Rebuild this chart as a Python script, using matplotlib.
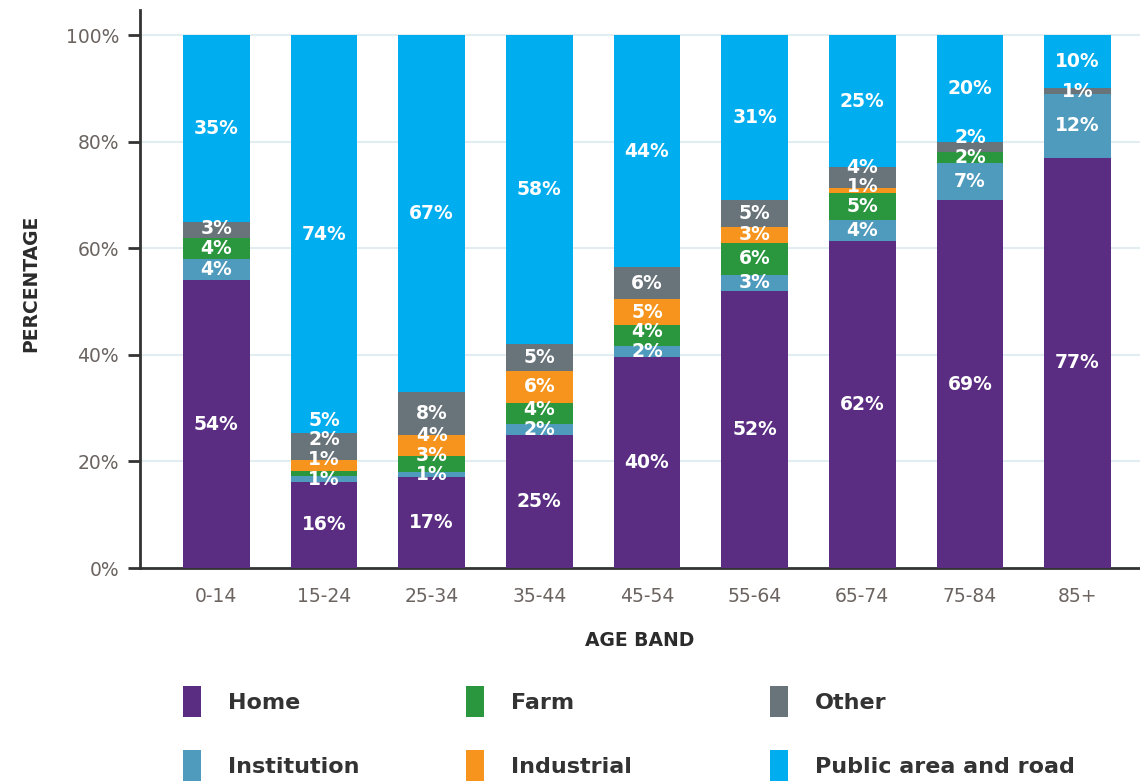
import numpy as np
import matplotlib.pyplot as plt
from matplotlib.patches import Patch

# Age bands and share of deaths by place of occurrence (%)
age_bands = ["0-14", "15-24", "25-34", "35-44", "45-54", "55-64", "65-74", "75-84", "85+"]
home = [54, 16, 17, 25, 40, 52, 62, 69, 77]
institution = [4, 1, 1, 2, 2, 3, 4, 7, 12]
farm = [4, 1, 3, 4, 4, 6, 5, 2, 0]
industrial = [0, 2, 4, 6, 5, 3, 1, 0, 0]
other = [3, 5, 8, 5, 6, 5, 4, 2, 1]
public = [35, 74, 67, 58, 44, 31, 25, 20, 10]

series = [
    ("Home", home, "#5a2d82"),
    ("Institution", institution, "#4f9bbd"),
    ("Farm", farm, "#2a973f"),
    ("Industrial", industrial, "#f7941d"),
    ("Other", other, "#68737a"),
    ("Public area and road", public, "#00aeef"),
]

fig = plt.figure(figsize=(11.4, 7.81), dpi=100)
ax = fig.add_axes([140 / 1140, 1 - 568 / 781, 1 - 140 / 1140, (568 - 10) / 781])

x = np.arange(len(age_bands))
totals = np.sum([s[1] for s in series], axis=0)
bottom = np.zeros(len(age_bands))
label_pos = [[] for _ in x]   # (y, text) per bar
for name, vals, col in series:
    vals = np.array(vals, dtype=float)
    h = vals / totals * 100
    ax.bar(x, h, 0.62, bottom=bottom, color=col, edgecolor="none", zorder=3)
    for i, (b, hi, v) in enumerate(zip(bottom, h, vals)):
        if v > 0:
            label_pos[i].append([b + hi / 2, f"{int(v)}%"])
    bottom += h

# push small-segment labels upward so they don't pile on top of each other
min_gap = 3.7
for i, labs in enumerate(label_pos):
    for k in range(1, len(labs)):
        if labs[k][0] - labs[k - 1][0] < min_gap:
            labs[k][0] = labs[k - 1][0] + min_gap
    for y, t in labs:
        ax.text(x[i], y, t, ha="center", va="center", color="white",
                fontsize=13.5, fontweight="bold", family="DejaVu Sans", zorder=4)

ax.set_xlim(-0.71, 8.58)
ax.set_ylim(0, 104.7)
ax.set_yticks([0, 20, 40, 60, 80, 100])
ax.set_yticklabels([f"{t}%" for t in [0, 20, 40, 60, 80, 100]],
                   family="DejaVu Sans", fontsize=13.5, color="#6b6460")
ax.set_xticks(x)
ax.set_xticklabels(age_bands, family="DejaVu Sans", fontsize=13.5, color="#6b6460")
ax.tick_params(axis="y", length=9, width=2, color="#333333", pad=6)
ax.tick_params(axis="x", length=0, pad=14)
ax.grid(axis="y", color="#e2edf1", linewidth=1.5, zorder=0)
for s in ["top", "right"]:
    ax.spines[s].set_visible(False)
for s in ["left", "bottom"]:
    ax.spines[s].set_color("#333333")
    ax.spines[s].set_linewidth(2)

ax.set_ylabel("PERCENTAGE", family="DejaVu Sans", fontsize=13.5, fontweight="bold",
              color="#2b2b2b")
ax.yaxis.set_label_coords(-0.1, 0.51)
ax.set_xlabel("AGE BAND", family="DejaVu Sans", fontsize=13.5, fontweight="bold",
              color="#2b2b2b", labelpad=18)

# legend, three columns of two entries
col_x = [183 / 1140, 466 / 1140, 770 / 1140]
for i, cx in enumerate(col_x):
    handles = [Patch(facecolor=series[j][2], label=series[j][0]) for j in (2 * i, 2 * i + 1)]
    fig.legend(handles=handles, loc="upper left", bbox_to_anchor=(cx, 1 - 686 / 781),
               frameon=False, borderpad=0, borderaxespad=0, handlelength=0.82,
               handleheight=1.75, handletextpad=1.2, labelspacing=1.5,
               prop={"family": "DejaVu Sans", "weight": "bold", "size": 16},
               labelcolor="#333333")

fig.savefig("out.png", dpi=100)
